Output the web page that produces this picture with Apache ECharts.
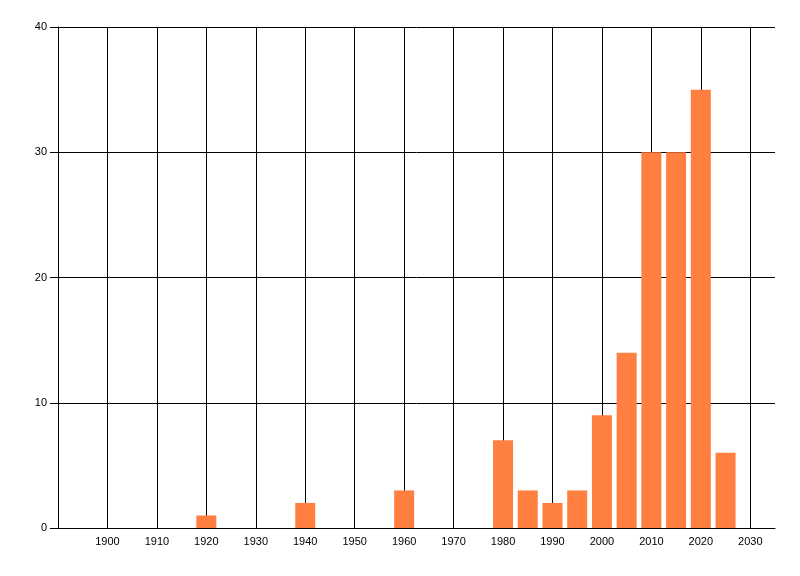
<!DOCTYPE html>
<html>
<head>
<meta charset="utf-8">
<script src="https://cdn.jsdelivr.net/npm/echarts@6/dist/echarts.min.js"></script>
<style>html,body{margin:0;padding:0;background:#fff;}#c{width:800px;height:576px;}</style>
</head>
<body>
<div id="c"></div>
<script>
const years = [1920, 1940, 1960, 1980, 1985, 1990, 1995, 2000, 2005, 2010, 2015, 2020, 2025];
const counts = [1, 2, 3, 7, 3, 2, 3, 9, 14, 30, 30, 35, 6];
const xTicks = [1900, 1910, 1920, 1930, 1940, 1950, 1960, 1970, 1980, 1990, 2000, 2010, 2020, 2030];
const yTicks = [0, 10, 20, 30, 40];

const chart = echarts.init(document.getElementById('c'));
const font = { fontFamily: 'Liberation Sans', fontSize: 11, color: '#000' };
chart.setOption({
  animation: false,
  grid: { left: 58, right: 25, top: 27, bottom: 48, containLabel: false },
  xAxis: {
    type: 'value', min: 1890, max: 2035, interval: 10,
    axisLine: { show: true, onZero: false, lineStyle: { color: '#000', width: 1 } },
    axisTick: { show: false },
    axisLabel: Object.assign({ showMinLabel: false, showMaxLabel: false, margin: 8,
      formatter: v => xTicks.includes(v) ? String(v) : '' }, font),
    splitLine: { show: true, showMinLine: false, showMaxLine: false, lineStyle: { color: '#000', width: 1 } }
  },
  yAxis: {
    type: 'value', min: yTicks[0], max: yTicks[yTicks.length - 1], interval: 10,
    axisLine: { show: true, lineStyle: { color: '#000', width: 1 } },
    axisTick: { show: true, length: 8, lineStyle: { color: '#000' } },
    axisLabel: Object.assign({ margin: 11 }, font),
    splitLine: { show: true, lineStyle: { color: '#000', width: 1 } }
  },
  series: [{
    type: 'bar',
    barWidth: 20,
    itemStyle: { color: '#FF7F40' },
    data: years.map((y, i) => [y, counts[i]])
  }]
});
</script>
</body>
</html>
